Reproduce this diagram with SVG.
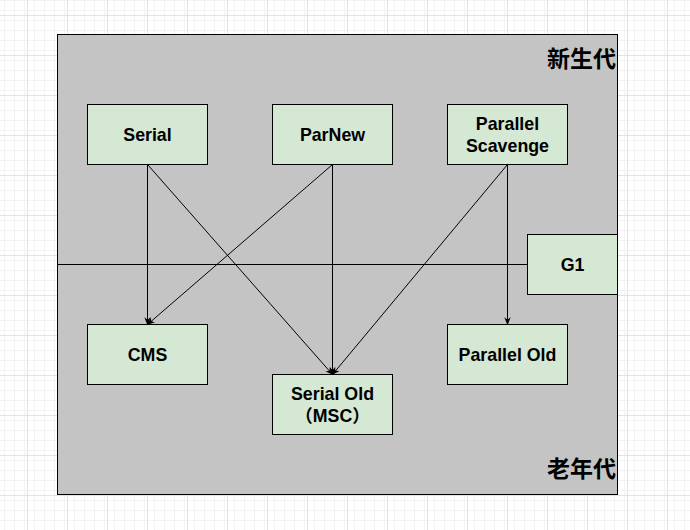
<svg xmlns="http://www.w3.org/2000/svg" width="690" height="530" viewBox="0 0 690 530">
<defs>
<pattern id="minor" x="7" y="5" width="10" height="10" patternUnits="userSpaceOnUse">
<path d="M0 0.5 H10 M0.5 0 V10" fill="none" stroke="#f3f3f3" stroke-width="1"/>
</pattern>
<pattern id="major" x="27" y="15" width="40" height="40" patternUnits="userSpaceOnUse">
<rect width="40" height="40" fill="url(#minor)"/>
<path d="M0 0.5 H40 M0.5 0 V40" fill="none" stroke="#e3e3e3" stroke-width="1"/>
</pattern>
<marker id="arr" viewBox="0 0 10 10" refX="9" refY="5" markerWidth="8" markerHeight="8" orient="auto" markerUnits="userSpaceOnUse">
<path d="M0,1 L10,5 L0,9 L3,5 z" fill="#000"/>
</marker>
<style>
.box{fill:#d5e8d4;stroke:#000;stroke-width:1}
.lbl{font-family:"Liberation Sans","Noto Sans CJK SC",Arial,sans-serif;font-weight:bold;font-size:17.8px;fill:#000;text-anchor:middle;dominant-baseline:central}
.gen{font-family:"Noto Sans CJK SC","Liberation Sans",sans-serif;font-weight:bold;font-size:23px;fill:#000}
.edge{fill:none;stroke:#000;stroke-width:1;marker-end:url(#arr)}
</style>
</defs>
<rect width="690" height="530" fill="#fff"/>
<rect width="690" height="530" fill="url(#major)"/>
<g id="heap">
<rect x="57.5" y="34.5" width="560" height="460" fill="#c4c4c4" stroke="#000" stroke-width="1"/>
<line x1="57.5" y1="264.5" x2="527.5" y2="264.5" stroke="#000" stroke-width="1"/>
<text class="gen" x="547" y="67">新生代</text>
<text class="gen" x="547" y="477">老年代</text>
</g>
<g id="connectors">
<path class="edge" d="M147.5 164.5 L147.5 324.5"/>
<path class="edge" d="M147.5 164.5 L332.5 374.5"/>
<path class="edge" d="M332.5 164.5 L147.5 324.5"/>
<path class="edge" d="M332.5 164.5 L332.5 374.5"/>
<path class="edge" d="M507.5 164.5 L332.5 374.5"/>
<path class="edge" d="M507.5 164.5 L507.5 324.5"/>
</g>
<g id="serial"><rect class="box" x="87.5" y="104.5" width="120" height="60"/><text class="lbl" x="147.5" y="134.5">Serial</text></g>
<g id="parnew"><rect class="box" x="272.5" y="104.5" width="120" height="60"/><text class="lbl" x="332.5" y="134.5">ParNew</text></g>
<g id="parallel-scavenge"><rect class="box" x="447.5" y="104.5" width="120" height="60"/><text class="lbl" x="507.5" y="123.5">Parallel</text><text class="lbl" x="507.5" y="145.5">Scavenge</text></g>
<g id="g1"><rect class="box" x="527.5" y="234.5" width="90" height="60"/><text class="lbl" x="572.5" y="264.5">G1</text></g>
<g id="cms"><rect class="box" x="87.5" y="324.5" width="120" height="60"/><text class="lbl" x="147.5" y="354.5">CMS</text></g>
<g id="parallel-old"><rect class="box" x="447.5" y="324.5" width="120" height="60"/><text class="lbl" x="507.5" y="354.5">Parallel Old</text></g>
<g id="serial-old"><rect class="box" x="272.5" y="374.5" width="120" height="60"/><text class="lbl" x="332.5" y="393.5">Serial Old</text><text class="lbl" x="332.5" y="415.5">（MSC）</text></g>
</svg>
